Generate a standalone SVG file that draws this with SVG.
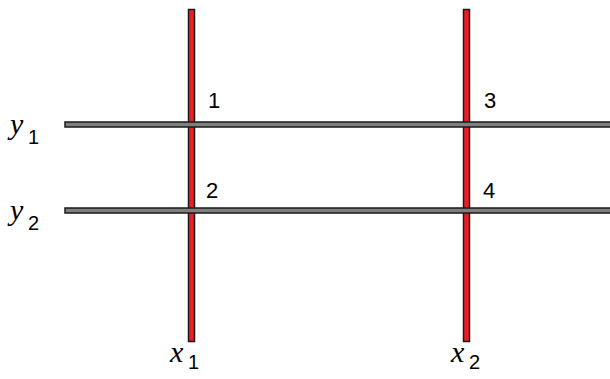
<svg xmlns="http://www.w3.org/2000/svg" width="610" height="379" viewBox="0 0 610 379">
<style>
.v{fill:#ee1c24;stroke:#1a1a1a;stroke-width:1.5}
.h{fill:#7f7f7f;stroke:#1a1a1a;stroke-width:1.5}
.n{font-family:"Liberation Sans",Arial,sans-serif;font-size:22px;fill:#000}
.m{font-family:"Liberation Serif","DejaVu Serif",serif;font-style:italic;font-size:30px;fill:#000}
.s{font-family:"Liberation Sans",Arial,sans-serif;font-size:20px;fill:#000}
</style>
<rect width="610" height="379" fill="#fff"/>
<g id="rod-x1"><rect class="v" x="188.5" y="9.5" width="6" height="332"/></g>
<g id="rod-x2"><rect class="v" x="463.5" y="9.5" width="6" height="332"/></g>
<g id="connectors">
<rect class="h" x="65" y="122" width="548" height="5"/>
<rect class="h" x="65" y="208" width="548" height="5"/>
</g>
<g id="labels">
<text class="n" x="208" y="108">1</text>
<text class="n" x="206" y="198">2</text>
<text class="n" x="484" y="108">3</text>
<text class="n" x="483" y="198">4</text>
<text class="m" x="10" y="134">y</text><text class="s" x="28" y="144">1</text>
<text class="m" x="10" y="220">y</text><text class="s" x="28" y="230">2</text>
<text class="m" x="170" y="362">x</text><text class="s" x="188" y="369">1</text>
<text class="m" x="451" y="362">x</text><text class="s" x="469" y="369">2</text>
</g>
</svg>
